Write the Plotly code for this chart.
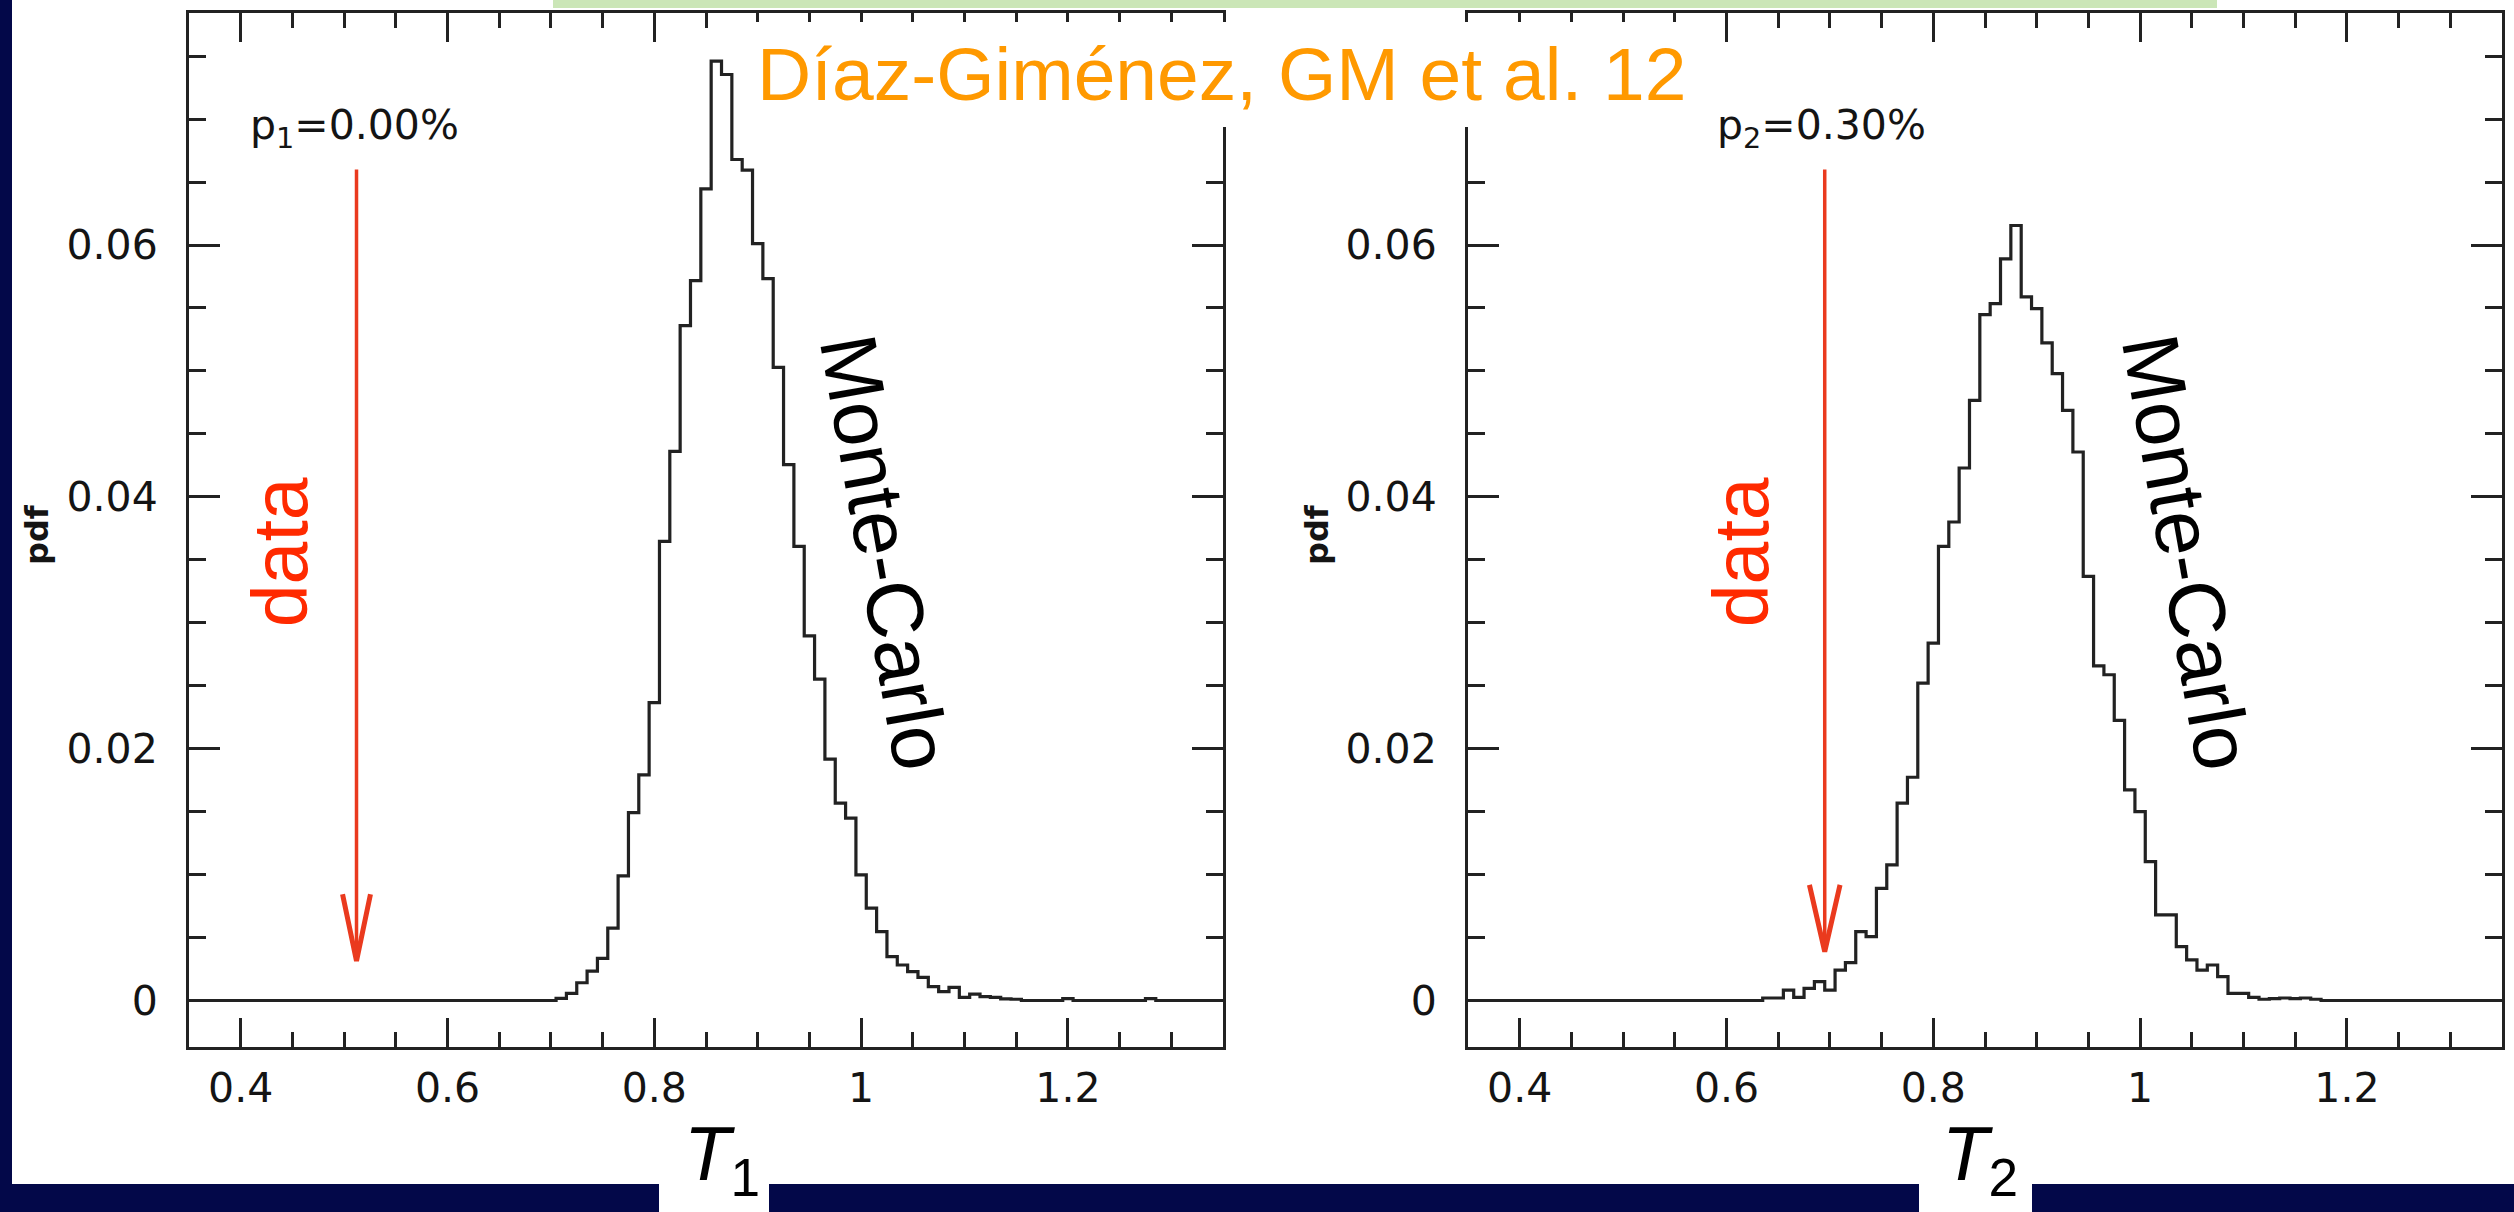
import plotly.graph_objects as go

W, H = 2514, 1212

# ---------------- data ----------------
BIN_CENTERS_T1 = [0.70, 0.71, 0.72, 0.73, 0.74, 0.75, 0.76, 0.77, 0.78, 0.79,
                  0.80, 0.81, 0.82, 0.83, 0.84, 0.85, 0.86, 0.87, 0.88, 0.89,
                  0.90, 0.91, 0.92, 0.93, 0.94, 0.95, 0.96, 0.97, 0.98, 0.99,
                  1.00, 1.01, 1.02, 1.03, 1.04, 1.05, 1.06, 1.07, 1.08, 1.09,
                  1.10, 1.11, 1.12, 1.13, 1.14, 1.15, 1.16, 1.17, 1.18, 1.19,
                  1.20, 1.21, 1.22, 1.23, 1.24, 1.25, 1.26, 1.27, 1.28, 1.29]
PDF_T1 = [0.0, 0.00017, 0.00057, 0.00141, 0.00234, 0.00335, 0.00574, 0.00989, 0.01492, 0.01792,
          0.02366, 0.03646, 0.04361, 0.05360, 0.05717, 0.06446, 0.07460, 0.07354, 0.06679, 0.06594,
          0.06011, 0.05733, 0.05028, 0.04255, 0.03606, 0.02896, 0.02552, 0.01917, 0.01567, 0.01448,
          0.00997, 0.00733, 0.00547, 0.00348, 0.00282, 0.00229, 0.00184, 0.00110, 0.00070, 0.00105,
          0.00025, 0.00050, 0.00030, 0.00025, 0.00013, 0.00010, 0.0, 0.0, 0.0, 0.0,
          0.00015, 0.0, 0.0, 0.0, 0.0, 0.0, 0.0, 0.0, 0.00015, 0.0]

BIN_CENTERS_T2 = [0.63, 0.64, 0.65, 0.66, 0.67, 0.68, 0.69, 0.70, 0.71, 0.72,
                  0.73, 0.74, 0.75, 0.76, 0.77, 0.78, 0.79, 0.80, 0.81, 0.82,
                  0.83, 0.84, 0.85, 0.86, 0.87, 0.88, 0.89, 0.90, 0.91, 0.92,
                  0.93, 0.94, 0.95, 0.96, 0.97, 0.98, 0.99, 1.00, 1.01, 1.02,
                  1.03, 1.04, 1.05, 1.06, 1.07, 1.08, 1.09, 1.10, 1.11, 1.12,
                  1.13, 1.14, 1.15, 1.16, 1.17, 1.18]
PDF_T2 = [0.0, 0.00020, 0.00020, 0.00083, 0.00025, 0.00097, 0.00150, 0.00083, 0.00242, 0.00300,
          0.00547, 0.00507, 0.00891, 0.01077, 0.01567, 0.01773, 0.02520, 0.02838, 0.03606, 0.03800,
          0.04229, 0.04766, 0.05447, 0.05535, 0.05890, 0.06155, 0.05588, 0.05495, 0.05222, 0.04978,
          0.04687, 0.04356, 0.03368, 0.02658, 0.02587, 0.02224, 0.01673, 0.01500, 0.01103, 0.00680,
          0.00680, 0.00428, 0.00322, 0.00242, 0.00282, 0.00189, 0.00057, 0.00057, 0.00025, 0.00010,
          0.00015, 0.00020, 0.00015, 0.00020, 0.00010, 0.0]

DATA_VALUES = [0.512, 0.695]
P_LABELS = ["p<sub>1</sub>=0.00%", "p<sub>2</sub>=0.30%"]
X_TICKS = [0.4, 0.6, 0.8, 1.0, 1.2]
X_TICK_TEXT = ["0.4", "0.6", "0.8", "1", "1.2"]
Y_TICKS = [0.0, 0.02, 0.04, 0.06]
Y_TICK_TEXT = ["0", "0.02", "0.04", "0.06"]
X_TITLES = ["<i>T</i><sub>1</sub>", "<i>T</i><sub>2</sub>"]

# ---------------- helpers ----------------
def px(x):
    return x / W


def py(y):
    return 1 - y / H


def steps(centers, vals, lo=0.35, hi=1.35, half=0.005):
    xs, ys = [lo], [0.0]
    for c, v in zip(centers, vals):
        xs.append(round(c - half, 4))
        ys.append(v)
    xs.append(round(centers[-1] + half, 4))
    ys.append(0.0)
    xs.append(hi)
    ys.append(0.0)
    return xs, ys


NAVY = "#030849"
FRAME = "#222222"
RED_ARROW = "#EA3A1E"
RED_TEXT = "#FF2A00"
ORANGE = "#FF9900"
GREEN = "#CBE6B7"
SANS = "Liberation Sans, Arial, Helvetica, sans-serif"
TICKFONT = "DejaVu Sans, Verdana, sans-serif"
TXT = "#141414"

fig = go.Figure()

for i, (cen, val) in enumerate([(BIN_CENTERS_T1, PDF_T1), (BIN_CENTERS_T2, PDF_T2)]):
    xs, ys = steps(cen, val)
    fig.add_trace(go.Scatter(
        x=xs, y=ys, mode="lines", line=dict(shape="hv", color=FRAME, width=3.2),
        xaxis="x" if i == 0 else "x2", yaxis="y" if i == 0 else "y2",
        showlegend=False, hoverinfo="skip"))

# axis geometry (pixels)
X_DOMAINS = [(189, 1223), (1468, 2502)]
Y_TOP, Y_BOT = 13, 1047
Y_RANGE = [-0.003693, 0.078425]
X_RANGE = [0.35, 1.35]

common_x = dict(
    range=X_RANGE, showline=True, linewidth=3, linecolor=FRAME, mirror="ticks",
    ticks="inside", ticklen=29, tickwidth=3, tickcolor=FRAME,
    tickvals=X_TICKS, ticktext=X_TICK_TEXT,
    minor=dict(ticks="inside", ticklen=15, tickwidth=2.5, tickcolor=FRAME, dtick=0.05, tick0=0),
    tickfont=dict(family=TICKFONT, size=41, color=TXT),
    showgrid=False, zeroline=False, ticklabelstandoff=3, fixedrange=True)
common_y = dict(
    range=Y_RANGE, showline=True, linewidth=3, linecolor=FRAME, mirror="ticks",
    ticks="inside", ticklen=31, tickwidth=3, tickcolor=FRAME,
    tickvals=Y_TICKS, ticktext=Y_TICK_TEXT,
    minor=dict(ticks="inside", ticklen=17, tickwidth=2.5, tickcolor=FRAME, dtick=0.005, tick0=0),
    tickfont=dict(family=TICKFONT, size=41, color=TXT),
    showgrid=False, zeroline=False, ticklabelstandoff=20, fixedrange=True,
    domain=[py(Y_BOT), py(Y_TOP)])

fig.update_layout(
    width=W, height=H, margin=dict(l=0, r=0, t=0, b=0),
    paper_bgcolor="white", plot_bgcolor="white",
    xaxis=dict(common_x, domain=[px(X_DOMAINS[0][0]), px(X_DOMAINS[0][1])], anchor="y"),
    yaxis=dict(common_y, anchor="x"),
    xaxis2=dict(common_x, domain=[px(X_DOMAINS[1][0]), px(X_DOMAINS[1][1])], anchor="y2"),
    yaxis2=dict(common_y, anchor="x2"),
)

shapes = []
annotations = []

# red arrows
ARROW_TOP = 0.0660
ARROW_TIPS = [0.00314, 0.00388]
HEAD_LEN = 0.0053
HEAD_HALF = [0.0135, 0.0148]
for i, v in enumerate(DATA_VALUES):
    xr = "x" if i == 0 else "x2"
    yr = "y" if i == 0 else "y2"
    tip = ARROW_TIPS[i]
    shapes.append(dict(type="line", xref=xr, yref=yr, x0=v, x1=v, y0=ARROW_TOP, y1=tip + 0.0004,
                       line=dict(color=RED_ARROW, width=3.5), layer="above"))
    shapes.append(dict(type="path", xref=xr, yref=yr,
                       path=f"M {v - HEAD_HALF[i]} {tip + HEAD_LEN} L {v} {tip} L {v + HEAD_HALF[i]} {tip + HEAD_LEN}",
                       line=dict(color=RED_ARROW, width=5), layer="above"))

# p labels
P_X = [0.4066, 0.5884]
for i, t in enumerate(P_LABELS):
    annotations.append(dict(text=t, xref="x" if i == 0 else "x2", yref="y" if i == 0 else "y2",
                            x=P_X[i], y=0.0716, xanchor="left", yanchor="top", showarrow=False,
                            font=dict(family=TICKFONT, size=41, color=TXT)))

# data labels (rotated)
DATA_LABEL_X = [0.438, 0.614]
for i in range(2):
    annotations.append(dict(text="data", xref="x" if i == 0 else "x2", yref="y" if i == 0 else "y2",
                            x=DATA_LABEL_X[i], y=0.0356, textangle=-90, showarrow=False,
                            xanchor="center", yanchor="middle",
                            font=dict(family=SANS, size=77, color=RED_TEXT)))

# Monte-Carlo labels
MC_X = [1.0231, 1.0454]
for i in range(2):
    annotations.append(dict(text="Monte-Carlo", xref="x" if i == 0 else "x2", yref="y" if i == 0 else "y2",
                            x=MC_X[i], y=0.0356, textangle=80, showarrow=False,
                            xanchor="center", yanchor="middle",
                            font=dict(family=SANS, size=80, color="black")))

# pdf axis labels
for xp in [37, 1317]:
    annotations.append(dict(text="<b>pdf</b>", xref="paper", yref="paper", x=px(xp), y=py(535),
                            textangle=-90, showarrow=False, xanchor="center", yanchor="middle",
                            font=dict(family=TICKFONT, size=32, color=TXT)))

# slide decorations
shapes.append(dict(type="rect", xref="paper", yref="paper", x0=px(553), x1=px(2217), y0=py(8), y1=py(0),
                   fillcolor=GREEN, line=dict(width=0), layer="above"))
shapes.append(dict(type="rect", xref="paper", yref="paper", x0=px(740), x1=px(1705), y0=py(127), y1=py(22),
                   fillcolor="white", line=dict(width=0), layer="above"))
shapes.append(dict(type="rect", xref="paper", yref="paper", x0=0, x1=px(12), y0=0, y1=1,
                   fillcolor=NAVY, line=dict(width=0), layer="above"))
for a, b in [(0, 659), (769, 1919), (2032, W)]:
    shapes.append(dict(type="rect", xref="paper", yref="paper", x0=px(a), x1=px(b), y0=0, y1=py(1184),
                       fillcolor=NAVY, line=dict(width=0), layer="above"))

annotations.append(dict(text="Díaz-Giménez, GM et al. 12", xref="paper", yref="paper",
                        x=px(755), y=py(74), xanchor="left", yanchor="middle", showarrow=False,
                        font=dict(family=SANS, size=75, color=ORANGE)))

# x-axis titles T1, T2
T_CENTERS = [722, 1980]
for i, tx in enumerate(T_CENTERS):
    annotations.append(dict(text=X_TITLES[i], xref="paper", yref="paper", x=px(tx), y=py(1159),
                            xanchor="center", yanchor="middle", showarrow=False,
                            font=dict(family=SANS, size=76, color="black")))

fig.update_layout(shapes=shapes, annotations=annotations)
fig.write_html("out.html")
